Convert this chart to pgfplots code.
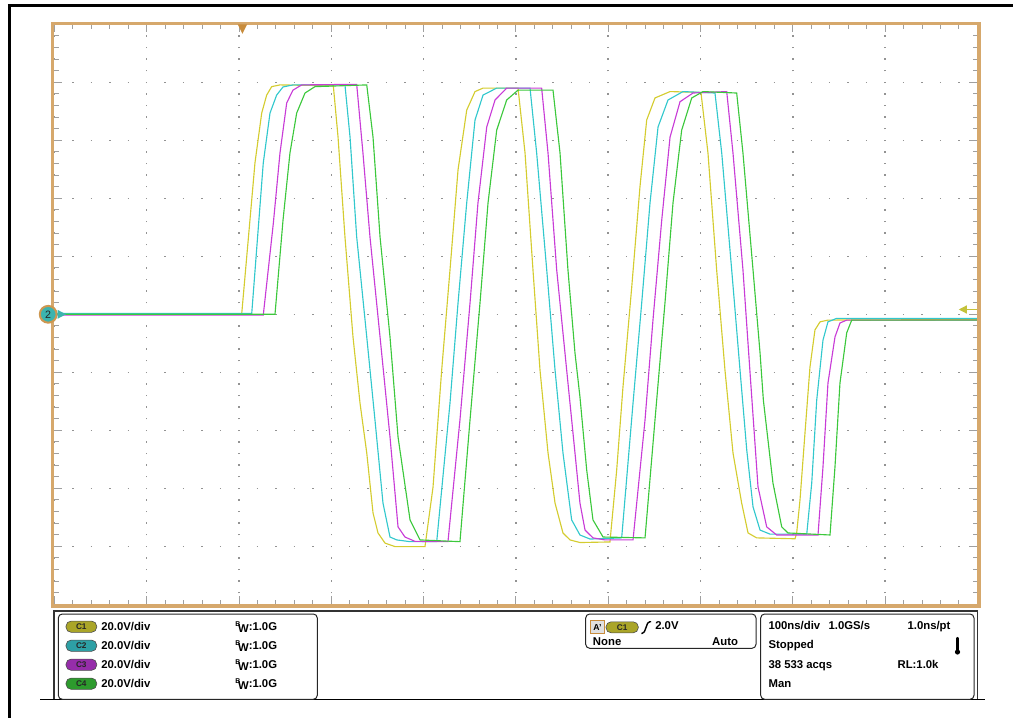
\documentclass[border=0pt]{standalone}
\usepackage{pgfplots}
\pgfplotsset{compat=1.18}
\usepackage{fontspec}
\setmainfont{Liberation Sans}
\definecolor{trY}{RGB}{212,204,48}
\definecolor{trC}{RGB}{50,200,205}
\definecolor{trM}{RGB}{200,60,215}
\definecolor{trG}{RGB}{60,200,60}
\definecolor{frameOr}{RGB}{214,168,108}
\definecolor{markOr}{RGB}{200,140,60}
\definecolor{pillA}{RGB}{170,165,40}
\definecolor{pillB}{RGB}{45,160,165}
\definecolor{pillC}{RGB}{150,45,170}
\definecolor{pillD}{RGB}{45,155,45}
\definecolor{teal2}{RGB}{60,180,175}
\definecolor{trigY}{RGB}{196,194,58}
\newcommand\lbl{\fontsize{8.5}{10}\selectfont\bfseries}
\newcommand\pilltxt{\fontsize{6.2}{6.5}\selectfont\bfseries}
\begin{document}
\begin{tikzpicture}
\begin{axis}[
  at={(0,0)}, anchor=south west, scale only axis,
  width=692.25pt, height=435pt,
  xmin=0, xmax=1000, ymin=-100, ymax=100,
  xtick={0,100,...,1000}, ytick={-100,-80,...,100},
  minor x tick num=4, minor y tick num=4,
  xticklabels={}, yticklabels={},
  major tick length=6pt, minor tick length=3.2pt,
  tick style={color=gray!75, line width=0.7pt},
  grid=major,
  major x grid style={color=gray!85, line width=1.1pt, dash pattern=on 1.1pt off 7.6pt, dash phase=0.55pt},
  major y grid style={color=gray!85, line width=1.1pt, dash pattern=on 1.1pt off 12.745pt, dash phase=0.55pt},
  axis line style={draw=none},
  clip=true,
]
% C1 yellow
\addplot[trY, line width=0.85pt] coordinates {
(0,0) (202.9,0) (217.3,52.2) (224.6,69.4) (230.0,75.6) (235.4,78.5) (244.4,79.1) (302.2,78.8) (307.3,61.1) (314.8,26.7) (323.5,-7.8) (331.1,-30.6) (338.4,-47.8) (345.2,-68.5) (350.6,-75.4) (358.2,-78.9) (369.0,-80.1) (401.5,-80.1) (410.2,-59.6) (419.6,-19.2) (428.6,15.3) (437.3,49.8) (446.7,70.4) (455.7,76.8) (464.4,78.0) (502.3,78.0) (509.9,55.6) (518.5,15.3) (526.1,-19.2) (534.8,-47.8) (542.4,-65.1) (551.0,-75.4) (558.6,-77.8) (569.4,-78.7) (601.9,-78.5) (609.2,-53.7) (616.0,-25.1) (625.5,9.4) (634.4,43.9) (641.7,67.0) (650.7,74.6) (667.0,76.8) (700.5,76.5) (708.1,55.6) (717.5,15.3) (726.5,-19.2) (735.2,-47.8) (744.6,-65.1) (751.5,-75.4) (760.9,-77.1) (802.4,-77.4) (804.2,-75.4) (807.8,-64.0) (813.2,-40.9) (818.6,-18.2) (824.0,-5.4) (829.5,-2.6) (838.1,-2.0) (1000,-1.8)
};
% C2 cyan
\addplot[trC, line width=0.85pt] coordinates {
(0,0.3) (213.8,0.3) (226.3,52.2) (233.6,69.4) (240.8,75.6) (247.7,78.4) (258.5,79.1) (314.8,79.1) (320.3,61.1) (327.5,26.7) (338.4,-7.8) (347.3,-36.4) (356.0,-65.1) (363.6,-76.8) (370.9,-77.8) (385.3,-78.4) (414.2,-78.4) (428.6,-30.6) (437.3,3.9) (446.7,38.4) (455.7,67.0) (464.4,75.6) (479.2,78.0) (515.3,78.0) (522.5,55.6) (533.4,15.3) (542.4,-19.2) (551.0,-47.8) (560.4,-70.9) (569.4,-76.1) (580.3,-77.5) (614.6,-77.1) (626.9,-30.6) (636.3,3.9) (645.3,38.4) (654.0,64.6) (664.8,73.9) (681.0,76.8) (715.7,76.3) (723.0,55.6) (733.8,15.3) (742.8,-19.2) (750.1,-46.8) (756.9,-66.4) (764.5,-74.4) (775.3,-75.8) (815.1,-75.8) (820.5,-58.2) (825.9,-29.6) (832.7,-8.9) (838.1,-2.6) (847.6,-1.4) (1000,-1.4)
};
% C3 magenta
\addplot[trM, line width=0.85pt] coordinates {
(0,-0.3) (226.3,-0.3) (237.2,31.4) (244.4,55.6) (251.7,72.9) (258.5,77.3) (267.9,79.1) (327.5,79.3) (334.3,55.6) (341.9,26.7) (352.8,-7.8) (363.6,-42.3) (372.3,-73.3) (379.8,-76.8) (390.7,-78.3) (426.4,-78.4) (439.4,-36.4) (450.3,3.9) (458.9,38.4) (468.4,64.6) (477.4,73.9) (490.0,78.0) (527.9,78.0) (534.8,55.6) (544.2,15.3) (555.0,-19.2) (564.0,-47.8) (569.4,-65.1) (574.9,-74.4) (583.5,-77.1) (596.5,-77.8) (626.9,-77.8) (639.9,-36.4) (648.5,-2.0) (658.0,32.5) (667.0,61.1) (677.8,73.3) (691.9,76.3) (728.4,76.8) (735.2,55.6) (746.0,15.3) (754.6,-24.4) (762.3,-59.5) (771.7,-73.3) (782.5,-76.1) (827.3,-76.1) (832.7,-52.6) (838.1,-23.7) (845.7,-7.8) (851.1,-3.0) (858.4,-2.0) (1000,-2.0)
};
% C4 green
\addplot[trG, line width=0.85pt] coordinates {
(0,0) (239.0,0) (247.7,32.5) (255.2,55.6) (262.5,69.4) (271.5,76.3) (282.3,78.5) (338.4,79.1) (345.2,61.1) (352.8,26.7) (363.6,-7.8) (372.3,-42.3) (385.3,-70.9) (396.1,-77.8) (439.4,-78.4) (450.3,-36.4) (461.1,3.9) (469.8,38.4) (479.2,63.5) (490.0,73.9) (502.3,77.3) (540.2,77.3) (547.8,55.6) (556.4,15.3) (564.0,-13.3) (569.4,-28.5) (576.7,-53.7) (583.5,-70.9) (594.4,-76.8) (639.9,-77.1) (650.7,-36.4) (661.5,3.9) (670.2,38.4) (679.6,63.5) (690.5,74.6) (702.7,76.8) (739.2,76.3) (746.0,55.6) (756.9,15.3) (764.5,-13.3) (768.1,-29.6) (778.5,-58.2) (788.0,-73.3) (794.8,-75.4) (840.3,-76.1) (845.7,-52.6) (851.1,-23.7) (858.4,-6.4) (863.8,-2.0) (1000,-2.0)
};
\end{axis}
\begin{scope}[x=0.75pt, y=-0.75pt, shift={(-40.8pt,453.225pt)}]
  % outer black frame
  \draw[black, line width=2.6pt*0.75] (8,5.5) -- (1013,5.5);
  \draw[black, line width=2.6pt*0.75] (9.7,4.2) -- (9.7,718);
  % graticule frame
  \draw[frameOr, line width=3.3*0.75pt] (52.6,23.2) rectangle (978.9,606.0);
  % trigger position marker (top)
  \fill[markOr] (237.8,24.5) -- (247.0,24.5) -- (242.4,33.8) -- cycle;
  % trigger level marker (right)
  \draw[trigY, line width=1.5*0.75pt] (965,309.5) -- (977,309.5);
  \fill[trigY] (958.8,309.5) -- (966.8,305.3) -- (966.8,313.7) -- cycle;
  % ground marker (left)
  \filldraw[fill=teal2, draw=markOr!90, line width=2*0.75pt] (48.2,314.3) circle (8.4);
  \node[inner sep=0, font=\fontsize{8}{8}\selectfont, text=black!85] at (48.2,314.6) {2};
  \fill[teal2] (57.5,309.8) -- (66,314.3) -- (57.5,318.8) -- cycle;
  % lower readout area
  \draw[black!80, line width=2*0.75pt] (54,611) -- (977.5,611);
  \draw[black!80, line width=1.6*0.75pt] (53.8,610) -- (53.8,699.5);
  \draw[black!80, line width=1.6*0.75pt] (977.6,610) -- (977.6,699.5);
  \draw[black, line width=1.5*0.75pt] (40,699.6) -- (985,699.6);
  % panels
  \draw[black!85, line width=1*0.75pt, rounded corners=3pt] (58.3,614) rectangle (317.3,699.3);
  \draw[black!85, line width=1*0.75pt, rounded corners=3pt] (585.7,614) rectangle (756,648.3);
  \draw[black!85, line width=1*0.75pt, rounded corners=3pt] (760.7,614) rectangle (974,699.3);
  % channel pills
  \foreach \yy/\cc/\tt in {626.7/pillA/C1, 645.7/pillB/C2, 664.7/pillC/C3, 683.7/pillD/C4}{
    \filldraw[fill=\cc, draw=black!70, line width=0.6*0.75pt, rounded corners=3.8pt] (66,\yy-5.6) rectangle (96.7,\yy+5.6);
    \node[inner sep=0, text=black!85] at (81.3,\yy+0.3) {\pilltxt \tt};
    \node[anchor=base west, inner sep=0] at (101,\yy+3.6) {\lbl 20.0V/div};
    \node[anchor=base west, inner sep=0] at (235,\yy+3.6) {\lbl\rlap{\raisebox{2.8pt}{\fontsize{5.2}{5}\selectfont\bfseries B}}\kern2.1pt\raisebox{-1.3pt}{W}:1.0G};
  }
  % trigger panel
  \filldraw[fill=black!12, draw=markOr, line width=1*0.75pt] (590.7,620.7) rectangle (604.3,633.3);
  \node[inner sep=0] at (597.5,627.3) {\fontsize{6.5}{7}\selectfont\bfseries A'};
  \filldraw[fill=pillA, draw=black!70, line width=0.6*0.75pt, rounded corners=3.8pt] (606,621.8) rectangle (638.3,632.8);
  \node[inner sep=0, text=black!85] at (622.2,627.6) {\pilltxt C1};
  \draw[black, line width=1.4*0.75pt, rounded corners=1.2pt] (641.3,633.3) -- (643.8,633.3) -- (648.2,621.7) -- (651.2,621.7);
  \node[anchor=base west, inner sep=0] at (655,629.5) {\lbl 2.0V};
  \node[anchor=base west, inner sep=0] at (592.7,645.4) {\lbl None};
  \node[anchor=base east, inner sep=0] at (738.3,645.4) {\lbl Auto};
  % timebase panel
  \node[anchor=base west, inner sep=0] at (768.3,629.4) {\lbl 100ns/div};
  \node[anchor=base west, inner sep=0] at (828.3,629.4) {\lbl 1.0GS/s};
  \node[anchor=base west, inner sep=0] at (907.3,629.4) {\lbl 1.0ns/pt};
  \node[anchor=base west, inner sep=0] at (768.3,648.6) {\lbl Stopped};
  \node[anchor=base west, inner sep=0] at (768.3,668.0) {\lbl 38 533 acqs};
  \node[anchor=base west, inner sep=0] at (897.3,668.0) {\lbl RL:1.0k};
  \node[anchor=base west, inner sep=0] at (768.3,687.4) {\lbl Man};
  % thermometer icon
  \draw[black, line width=2.2*0.75pt, line cap=round] (957.5,638) -- (957.5,650);
  \fill[black] (957.5,652) circle (2.6);
  % bounding box
  \pgfresetboundingbox
  \path[use as bounding box] (0,0) rectangle (1013,718);
\end{scope}
\end{tikzpicture}
\end{document}
